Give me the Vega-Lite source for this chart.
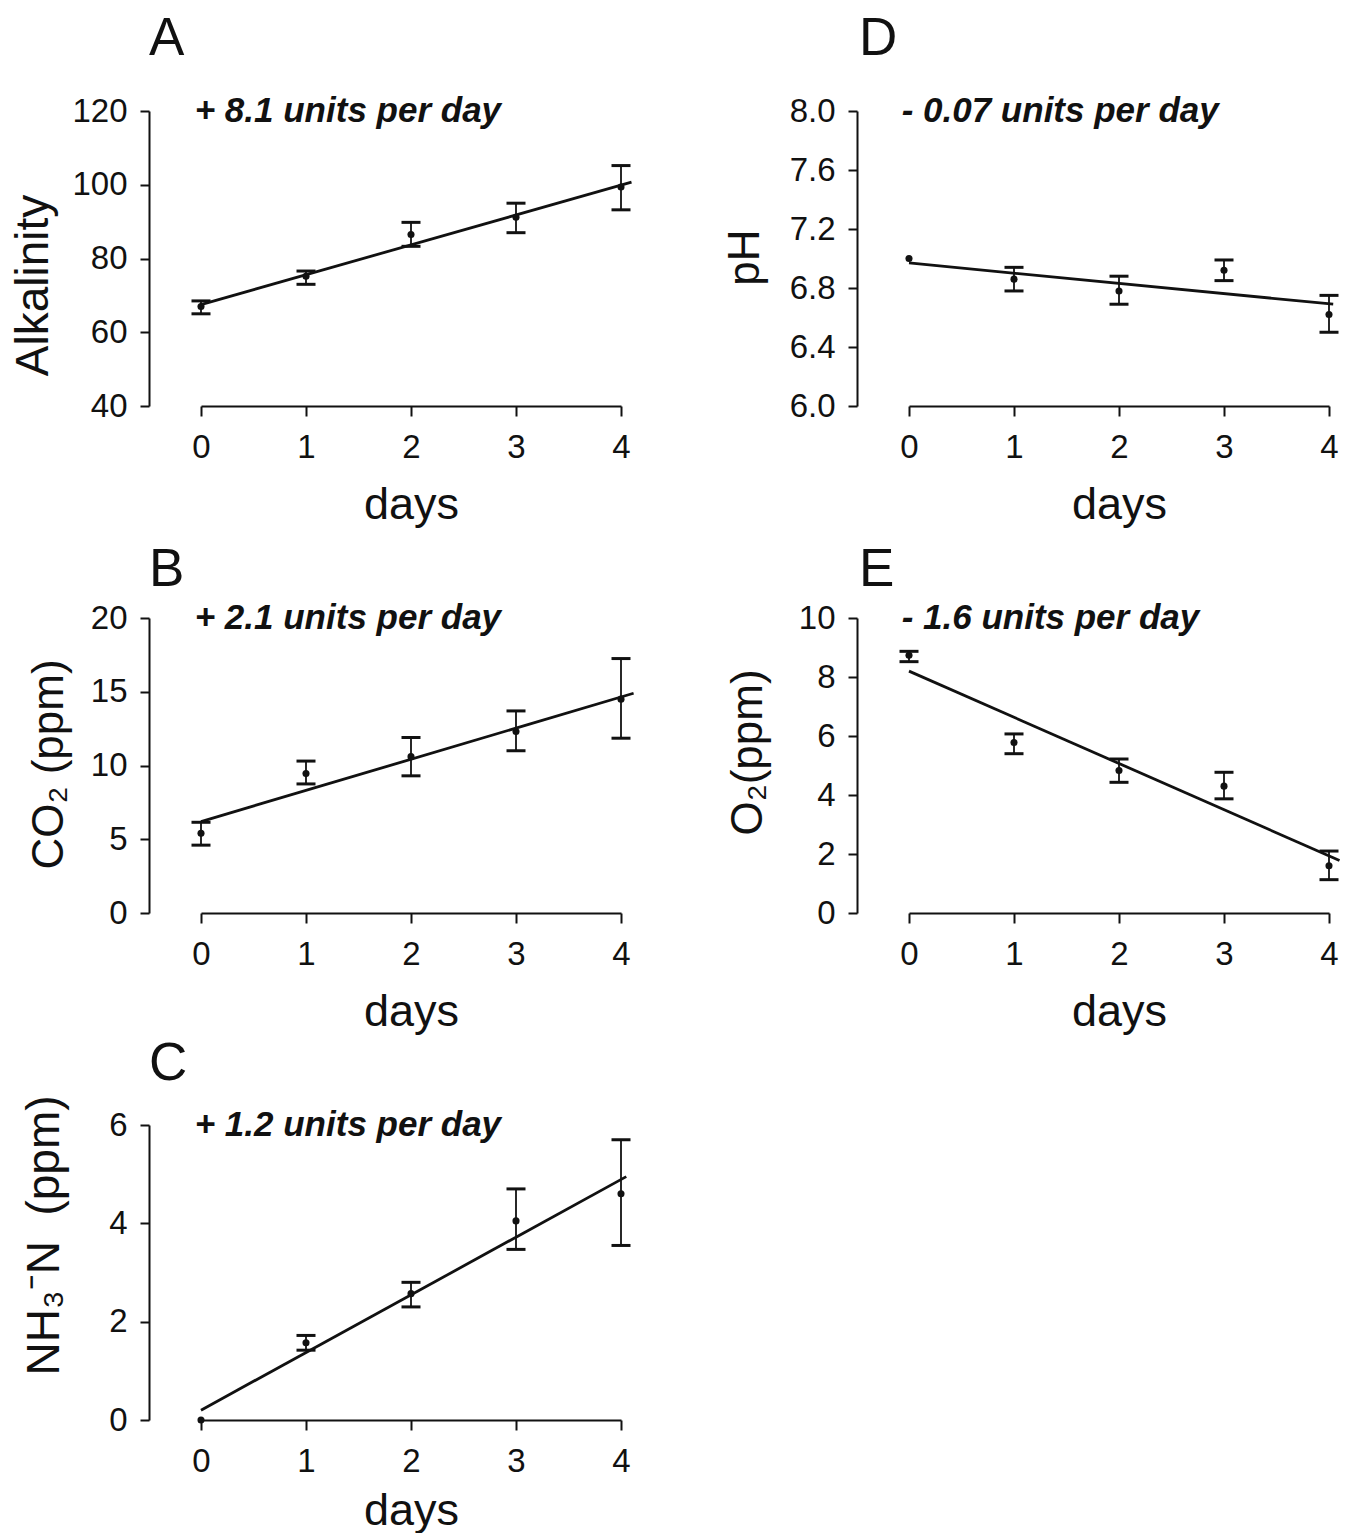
{
  "$schema": "https://vega.github.io/schema/vega-lite/v6.json",
  "background": "white",
  "padding": {"left": 10, "top": 13, "right": 5, "bottom": 0},
  "config": {
    "font": "Liberation Sans",
    "view": {"stroke": null},
    "axis": {"domainColor": "#111", "domainWidth": 2, "tickColor": "#111", "tickWidth": 2, "labelColor": "#111", "labelFontSize": 33, "labelFont": "Liberation Sans", "titleFont": "Liberation Sans", "titleFontSize": 44, "titleFontWeight": "normal", "titleColor": "#111", "grid": false, "labelFlush": false, "labelOverlap": false},
    "axisX": {"tickSize": 10, "labelPadding": 15, "titlePadding": 18, "titleFontSize": 45, "format": "d"},
    "axisY": {"tickSize": 9, "labelPadding": 13, "offset": 52, "titleAngle": 270, "titleBaseline": "bottom", "titleAlign": "center"},
    "title": {"fontSize": 53, "fontWeight": "normal", "anchor": "start", "frame": "group", "color": "#111", "font": "Liberation Sans"}
  },
  "datasets": {
    "pts": [
      {"panel": "A", "day": 0, "mean": 67.0, "lo": 65.0, "hi": 68.5},
      {"panel": "A", "day": 1, "mean": 75.2, "lo": 73.0, "hi": 76.6},
      {"panel": "A", "day": 2, "mean": 86.5, "lo": 83.3, "hi": 89.8},
      {"panel": "A", "day": 3, "mean": 91.2, "lo": 87.0, "hi": 95.0},
      {"panel": "A", "day": 4, "mean": 99.4, "lo": 93.2, "hi": 105.2},
      {"panel": "D", "day": 0, "mean": 7.0, "lo": null, "hi": null},
      {"panel": "D", "day": 1, "mean": 6.86, "lo": 6.78, "hi": 6.94},
      {"panel": "D", "day": 2, "mean": 6.78, "lo": 6.69, "hi": 6.88},
      {"panel": "D", "day": 3, "mean": 6.92, "lo": 6.85, "hi": 6.99},
      {"panel": "D", "day": 4, "mean": 6.62, "lo": 6.5, "hi": 6.75},
      {"panel": "B", "day": 0, "mean": 5.4, "lo": 4.6, "hi": 6.15},
      {"panel": "B", "day": 1, "mean": 9.45, "lo": 8.75, "hi": 10.3},
      {"panel": "B", "day": 2, "mean": 10.6, "lo": 9.3, "hi": 11.9},
      {"panel": "B", "day": 3, "mean": 12.3, "lo": 11.0, "hi": 13.7},
      {"panel": "B", "day": 4, "mean": 14.5, "lo": 11.85, "hi": 17.25},
      {"panel": "E", "day": 0, "mean": 8.74, "lo": 8.52, "hi": 8.87},
      {"panel": "E", "day": 1, "mean": 5.78, "lo": 5.4, "hi": 6.07},
      {"panel": "E", "day": 2, "mean": 4.83, "lo": 4.43, "hi": 5.22},
      {"panel": "E", "day": 3, "mean": 4.3, "lo": 3.87, "hi": 4.77},
      {"panel": "E", "day": 4, "mean": 1.6, "lo": 1.13, "hi": 2.1},
      {"panel": "C", "day": 0, "mean": 0.0, "lo": null, "hi": null},
      {"panel": "C", "day": 1, "mean": 1.57, "lo": 1.42, "hi": 1.72},
      {"panel": "C", "day": 2, "mean": 2.57, "lo": 2.3, "hi": 2.8},
      {"panel": "C", "day": 3, "mean": 4.05, "lo": 3.47, "hi": 4.7},
      {"panel": "C", "day": 4, "mean": 4.6, "lo": 3.55, "hi": 5.7}
    ],
    "fit": [
      {"panel": "A", "day": 0, "value": 67.5},
      {"panel": "A", "day": 4.1, "value": 100.7},
      {"panel": "D", "day": 0, "value": 6.97},
      {"panel": "D", "day": 4.04, "value": 6.69},
      {"panel": "B", "day": 0, "value": 6.2},
      {"panel": "B", "day": 4.12, "value": 14.9},
      {"panel": "E", "day": 0, "value": 8.2},
      {"panel": "E", "day": 4.1, "value": 1.78},
      {"panel": "C", "day": 0, "value": 0.2},
      {"panel": "C", "day": 4.05, "value": 4.95}
    ],
    "note": [{}]
  },
  "bounds": "flush",
  "spacing": 507,
  "vconcat": [
    {
      "bounds": "flush",
      "spacing": 288,
      "hconcat": [
        {
          "width": 420, "height": 295,
          "title": {"text": "A", "dx": -52, "offset": 28},
          "layer": [
            {"data": {"name": "pts"}, "transform": [{"filter": "datum.panel === 'A'"}],
             "mark": {"type": "rule", "strokeWidth": 1.8, "color": "#111"},
             "encoding": {
               "x": {"field": "day", "type": "quantitative", "scale": {"domain": [0, 4], "nice": false, "zero": false}, "axis": {"values": [0, 1, 2, 3, 4], "title": "days"}},
               "y": {"field": "lo", "type": "quantitative", "scale": {"domain": [40, 120], "nice": false, "zero": false}, "axis": {"values": [40, 60, 80, 100, 120], "title": "Alkalinity", "titleFontSize": 46, "titleX": -92, "titleY": 174}},
               "y2": {"field": "hi"}}},
            {"data": {"name": "pts"}, "transform": [{"filter": "datum.panel === 'A'"}],
             "mark": {"type": "tick", "orient": "horizontal", "size": 19, "thickness": 3, "color": "#111", "opacity": 1},
             "encoding": {"x": {"field": "day", "type": "quantitative"}, "y": {"field": "lo", "type": "quantitative"}}},
            {"data": {"name": "pts"}, "transform": [{"filter": "datum.panel === 'A'"}],
             "mark": {"type": "tick", "orient": "horizontal", "size": 19, "thickness": 3, "color": "#111", "opacity": 1},
             "encoding": {"x": {"field": "day", "type": "quantitative"}, "y": {"field": "hi", "type": "quantitative"}}},
            {"data": {"name": "pts"}, "transform": [{"filter": "datum.panel === 'A'"}],
             "mark": {"type": "point", "filled": true, "size": 50, "color": "#111", "opacity": 1},
             "encoding": {"x": {"field": "day", "type": "quantitative"}, "y": {"field": "mean", "type": "quantitative"}}},
            {"data": {"name": "fit"}, "transform": [{"filter": "datum.panel === 'A'"}],
             "mark": {"type": "line", "strokeWidth": 2.8, "color": "#111", "clip": false},
             "encoding": {"x": {"field": "day", "type": "quantitative"}, "y": {"field": "value", "type": "quantitative"}}},
            {"data": {"name": "note"},
             "mark": {"type": "text", "align": "left", "baseline": "middle", "fontSize": 35, "fontWeight": "bold", "fontStyle": "italic", "color": "#111"},
             "encoding": {"x": {"datum": -0.06, "type": "quantitative"}, "y": {"datum": 120, "type": "quantitative"}, "text": {"value": "+ 8.1 units per day"}}}
          ]
        },
        {
          "width": 420, "height": 295,
          "title": {"text": "D", "dx": -50, "offset": 28},
          "layer": [
            {"data": {"name": "pts"}, "transform": [{"filter": "datum.panel === 'D'"}],
             "mark": {"type": "rule", "strokeWidth": 1.8, "color": "#111"},
             "encoding": {
               "x": {"field": "day", "type": "quantitative", "scale": {"domain": [0, 4], "nice": false, "zero": false}, "axis": {"values": [0, 1, 2, 3, 4], "title": "days"}},
               "y": {"field": "lo", "type": "quantitative", "scale": {"domain": [6, 8], "nice": false, "zero": false}, "axis": {"values": [6.0, 6.4, 6.8, 7.2, 7.6, 8.0], "format": ".1f", "title": "pH", "titleX": -90, "titleY": 146}},
               "y2": {"field": "hi"}}},
            {"data": {"name": "pts"}, "transform": [{"filter": "datum.panel === 'D'"}],
             "mark": {"type": "tick", "orient": "horizontal", "size": 19, "thickness": 3, "color": "#111", "opacity": 1},
             "encoding": {"x": {"field": "day", "type": "quantitative"}, "y": {"field": "lo", "type": "quantitative"}}},
            {"data": {"name": "pts"}, "transform": [{"filter": "datum.panel === 'D'"}],
             "mark": {"type": "tick", "orient": "horizontal", "size": 19, "thickness": 3, "color": "#111", "opacity": 1},
             "encoding": {"x": {"field": "day", "type": "quantitative"}, "y": {"field": "hi", "type": "quantitative"}}},
            {"data": {"name": "pts"}, "transform": [{"filter": "datum.panel === 'D'"}],
             "mark": {"type": "point", "filled": true, "size": 50, "color": "#111", "opacity": 1},
             "encoding": {"x": {"field": "day", "type": "quantitative"}, "y": {"field": "mean", "type": "quantitative"}}},
            {"data": {"name": "fit"}, "transform": [{"filter": "datum.panel === 'D'"}],
             "mark": {"type": "line", "strokeWidth": 2.8, "color": "#111", "clip": false},
             "encoding": {"x": {"field": "day", "type": "quantitative"}, "y": {"field": "value", "type": "quantitative"}}},
            {"data": {"name": "note"},
             "mark": {"type": "text", "align": "left", "baseline": "middle", "fontSize": 35, "fontWeight": "bold", "fontStyle": "italic", "color": "#111"},
             "encoding": {"x": {"datum": -0.07, "type": "quantitative"}, "y": {"datum": 8, "type": "quantitative"}, "text": {"value": "- 0.07 units per day"}}}
          ]
        }
      ]
    },
    {
      "bounds": "flush",
      "spacing": 288,
      "hconcat": [
        {
          "width": 420, "height": 295,
          "title": {"text": "B", "dx": -52, "offset": 4},
          "layer": [
            {"data": {"name": "pts"}, "transform": [{"filter": "datum.panel === 'B'"}],
             "mark": {"type": "rule", "strokeWidth": 1.8, "color": "#111"},
             "encoding": {
               "x": {"field": "day", "type": "quantitative", "scale": {"domain": [0, 4], "nice": false, "zero": false}, "axis": {"values": [0, 1, 2, 3, 4], "title": "days"}},
               "y": {"field": "lo", "type": "quantitative", "scale": {"domain": [0, 20], "nice": false, "zero": false}, "axis": {"values": [0, 5, 10, 15, 20], "title": "CO₂ (ppm)", "titleX": -78, "titleY": 146}},
               "y2": {"field": "hi"}}},
            {"data": {"name": "pts"}, "transform": [{"filter": "datum.panel === 'B'"}],
             "mark": {"type": "tick", "orient": "horizontal", "size": 19, "thickness": 3, "color": "#111", "opacity": 1},
             "encoding": {"x": {"field": "day", "type": "quantitative"}, "y": {"field": "lo", "type": "quantitative"}}},
            {"data": {"name": "pts"}, "transform": [{"filter": "datum.panel === 'B'"}],
             "mark": {"type": "tick", "orient": "horizontal", "size": 19, "thickness": 3, "color": "#111", "opacity": 1},
             "encoding": {"x": {"field": "day", "type": "quantitative"}, "y": {"field": "hi", "type": "quantitative"}}},
            {"data": {"name": "pts"}, "transform": [{"filter": "datum.panel === 'B'"}],
             "mark": {"type": "point", "filled": true, "size": 50, "color": "#111", "opacity": 1},
             "encoding": {"x": {"field": "day", "type": "quantitative"}, "y": {"field": "mean", "type": "quantitative"}}},
            {"data": {"name": "fit"}, "transform": [{"filter": "datum.panel === 'B'"}],
             "mark": {"type": "line", "strokeWidth": 2.8, "color": "#111", "clip": false},
             "encoding": {"x": {"field": "day", "type": "quantitative"}, "y": {"field": "value", "type": "quantitative"}}},
            {"data": {"name": "note"},
             "mark": {"type": "text", "align": "left", "baseline": "middle", "fontSize": 35, "fontWeight": "bold", "fontStyle": "italic", "color": "#111"},
             "encoding": {"x": {"datum": -0.06, "type": "quantitative"}, "y": {"datum": 20, "type": "quantitative"}, "text": {"value": "+ 2.1 units per day"}}}
          ]
        },
        {
          "width": 420, "height": 295,
          "title": {"text": "E", "dx": -50, "offset": 4},
          "layer": [
            {"data": {"name": "pts"}, "transform": [{"filter": "datum.panel === 'E'"}],
             "mark": {"type": "rule", "strokeWidth": 1.8, "color": "#111"},
             "encoding": {
               "x": {"field": "day", "type": "quantitative", "scale": {"domain": [0, 4], "nice": false, "zero": false}, "axis": {"values": [0, 1, 2, 3, 4], "title": "days"}},
               "y": {"field": "lo", "type": "quantitative", "scale": {"domain": [0, 10], "nice": false, "zero": false}, "axis": {"values": [0, 2, 4, 6, 8, 10], "title": "O₂(ppm)", "titleX": -87, "titleY": 134}},
               "y2": {"field": "hi"}}},
            {"data": {"name": "pts"}, "transform": [{"filter": "datum.panel === 'E'"}],
             "mark": {"type": "tick", "orient": "horizontal", "size": 19, "thickness": 3, "color": "#111", "opacity": 1},
             "encoding": {"x": {"field": "day", "type": "quantitative"}, "y": {"field": "lo", "type": "quantitative"}}},
            {"data": {"name": "pts"}, "transform": [{"filter": "datum.panel === 'E'"}],
             "mark": {"type": "tick", "orient": "horizontal", "size": 19, "thickness": 3, "color": "#111", "opacity": 1},
             "encoding": {"x": {"field": "day", "type": "quantitative"}, "y": {"field": "hi", "type": "quantitative"}}},
            {"data": {"name": "pts"}, "transform": [{"filter": "datum.panel === 'E'"}],
             "mark": {"type": "point", "filled": true, "size": 50, "color": "#111", "opacity": 1},
             "encoding": {"x": {"field": "day", "type": "quantitative"}, "y": {"field": "mean", "type": "quantitative"}}},
            {"data": {"name": "fit"}, "transform": [{"filter": "datum.panel === 'E'"}],
             "mark": {"type": "line", "strokeWidth": 2.8, "color": "#111", "clip": false},
             "encoding": {"x": {"field": "day", "type": "quantitative"}, "y": {"field": "value", "type": "quantitative"}}},
            {"data": {"name": "note"},
             "mark": {"type": "text", "align": "left", "baseline": "middle", "fontSize": 35, "fontWeight": "bold", "fontStyle": "italic", "color": "#111"},
             "encoding": {"x": {"datum": -0.07, "type": "quantitative"}, "y": {"datum": 10, "type": "quantitative"}, "text": {"value": "- 1.6 units per day"}}}
          ]
        }
      ]
    },
    {
      "width": 420, "height": 295,
      "title": {"text": "C", "dx": -52, "offset": 4},
      "layer": [
        {"data": {"name": "pts"}, "transform": [{"filter": "datum.panel === 'C'"}],
         "mark": {"type": "rule", "strokeWidth": 1.8, "color": "#111"},
         "encoding": {
           "x": {"field": "day", "type": "quantitative", "scale": {"domain": [0, 4], "nice": false, "zero": false}, "axis": {"values": [0, 1, 2, 3, 4], "title": "days", "titlePadding": 10}},
           "y": {"field": "lo", "type": "quantitative", "scale": {"domain": [0, 6], "nice": false, "zero": false}, "axis": {"values": [0, 2, 4, 6], "title": "NH₃⁻N\u00a0\u00a0(ppm)", "titleFontSize": 46, "titleX": -81, "titleY": 110}},
           "y2": {"field": "hi"}}},
        {"data": {"name": "pts"}, "transform": [{"filter": "datum.panel === 'C'"}],
         "mark": {"type": "tick", "orient": "horizontal", "size": 19, "thickness": 3, "color": "#111", "opacity": 1},
         "encoding": {"x": {"field": "day", "type": "quantitative"}, "y": {"field": "lo", "type": "quantitative"}}},
        {"data": {"name": "pts"}, "transform": [{"filter": "datum.panel === 'C'"}],
         "mark": {"type": "tick", "orient": "horizontal", "size": 19, "thickness": 3, "color": "#111", "opacity": 1},
         "encoding": {"x": {"field": "day", "type": "quantitative"}, "y": {"field": "hi", "type": "quantitative"}}},
        {"data": {"name": "pts"}, "transform": [{"filter": "datum.panel === 'C'"}],
         "mark": {"type": "point", "filled": true, "size": 50, "color": "#111", "opacity": 1},
         "encoding": {"x": {"field": "day", "type": "quantitative"}, "y": {"field": "mean", "type": "quantitative"}}},
        {"data": {"name": "fit"}, "transform": [{"filter": "datum.panel === 'C'"}],
         "mark": {"type": "line", "strokeWidth": 2.8, "color": "#111", "clip": false},
         "encoding": {"x": {"field": "day", "type": "quantitative"}, "y": {"field": "value", "type": "quantitative"}}},
        {"data": {"name": "note"},
         "mark": {"type": "text", "align": "left", "baseline": "middle", "fontSize": 35, "fontWeight": "bold", "fontStyle": "italic", "color": "#111"},
         "encoding": {"x": {"datum": -0.06, "type": "quantitative"}, "y": {"datum": 6, "type": "quantitative"}, "text": {"value": "+ 1.2 units per day"}}}
      ]
    }
  ]
}
